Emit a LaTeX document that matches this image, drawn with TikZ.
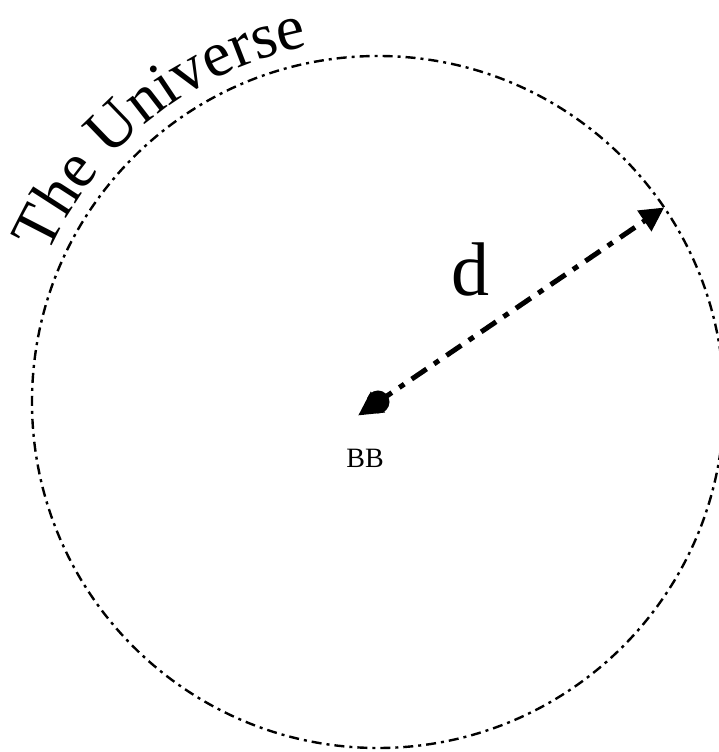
\documentclass[tikz,border=0pt]{standalone}
\usepackage{fontspec}
\setmainfont{Liberation Serif}
\usetikzlibrary{arrows.meta, calc, decorations.text}
\tikzset{%
  edge/.style={line width=2.4pt, dash pattern=on 10pt off 5pt on 3pt off 5pt},
  dist/.style={line width=5pt, dash pattern=on 18pt off 9pt on 6pt off 9pt,
               {Triangle[length=24pt,width=24pt]}-{Triangle[length=24pt,width=24pt]}},
}

\begin{document}
\begin{tikzpicture}[x=1pt, y=1pt]
\useasboundingbox (0,0) rectangle (719,752);

% Centre of the universe
\coordinate (O) at (378,350);

% Draw the edge of the universe
\draw[edge] (O) circle[radius=346];

% Draw the distance from the big bang to the edge
\coordinate (S) at ($(O)+(214.2:24)$);
\coordinate (E) at ($(O)+(34.2:346)$);
\draw[dist] (S) -- (E);
\node[circle, fill, inner sep=0pt, minimum size=23pt] (bb) at (O) {};

% Labels
\node[font=\fontsize{28}{28}\selectfont] (bbl) at (365,294) {BB};
\node[font=\fontsize{76}{76}\selectfont] (dl) at (470,482) {d};
\path[decorate, decoration={text along path, text align=center,
      text={|\fontsize{64}{64}\selectfont|The Universe}}]
  ($(O)+(155:362)$) arc[start angle=155, end angle=102, radius=362];

\end{tikzpicture}
\end{document}
